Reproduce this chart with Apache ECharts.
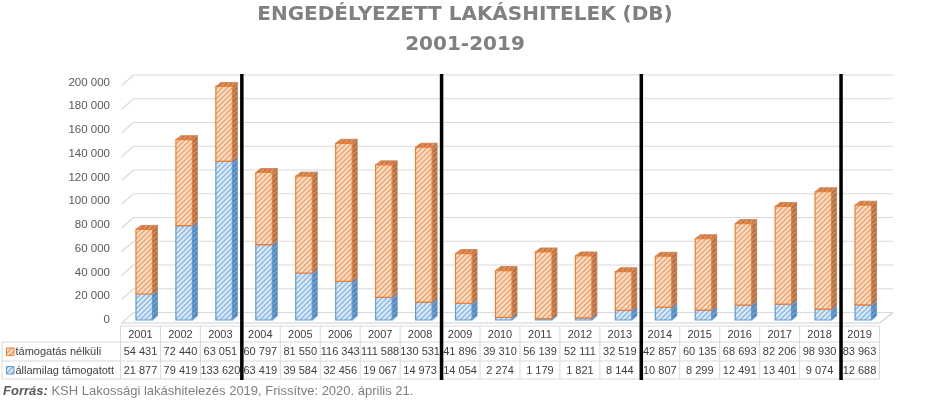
<!DOCTYPE html>
<html><head><meta charset="utf-8">
<script src="https://cdn.jsdelivr.net/npm/echarts@6/dist/echarts.min.js"></script>
<style>html,body{margin:0;padding:0;background:#fff}#c{width:930px;height:402px}</style>
</head><body><div id="c"></div>
<script>
const years = ['2001','2002','2003','2004','2005','2006','2007','2008','2009','2010','2011','2012','2013','2014','2015','2016','2017','2018','2019'];
const unsupported = [54431,72440,63051,60797,81550,116343,111588,130531,41896,39310,56139,52111,32519,42857,60135,68693,82206,98930,83963];
const supported = [21877,79419,133620,63419,39584,32456,19067,14973,14054,2274,1179,1821,8144,10807,8299,12491,13401,9074,12688];
const seriesNames = ['támogatás nélküli','államilag támogatott'];
const yTicks = [0,20000,40000,60000,80000,100000,120000,140000,160000,180000,200000];
const periodStarts = [3,8,13,18];
const titleText = 'ENGEDÉLYEZETT LAKÁSHITELEK (DB)\n2001-2019';
const sourceBold = 'Forrás:';
const sourceText = ' KSH Lakossági lakáshitelezés 2019, Frissítve: 2020. április 21.';

function fmt(v){ return String(v).replace(/\B(?=(\d{3})+(?!\d))/g,' '); }

function hatch(bg, line){
  const s = 5, c = document.createElement('canvas');
  c.width = s; c.height = s;
  const g = c.getContext('2d');
  g.fillStyle = bg; g.fillRect(0,0,s,s);
  g.strokeStyle = line; g.lineWidth = 1.3;
  g.beginPath();
  g.moveTo(-1, s+1); g.lineTo(s+1, -1);
  g.moveTo(-1, 1); g.lineTo(1, -1);
  g.moveTo(s-1, s+1); g.lineTo(s+1, s-1);
  g.stroke();
  return {image: c, repeat: 'repeat'};
}
const P = {
  oFront: hatch('#fce0cc', '#f09d62'),
  oSide: hatch('#c88a60', '#a86538'),
  oTop: hatch('#dc915f', '#c0703d'),
  bFront: hatch('#dceaf8', '#88b4e0'),
  bSide: hatch('#6f9fd0', '#4a7fb8'),
  bTop: hatch('#7fb0dd', '#5a8fc8')
};
const oEdge = '#ed7d31', bEdge = '#5b9bd5', gridC = '#d9d9d9', tableC = '#d9d9d9';
const txtFont = '11px "Liberation Sans"';

const chart = echarts.init(document.getElementById('c'), null, {renderer:'canvas'});

function bandW(api){ return api.size([1,0])[0]; }

const option = {
  animation: false,
  title: {
    text: titleText, left: 'center', top: 0.5, padding: 0,
    textStyle: {fontFamily: 'DejaVu Sans', fontWeight: 'bold', fontSize: 20, color: '#808080', lineHeight: 29.5}
  },
  grid: {left: 120.5, right: 50.5, top: 82.5, bottom: 82},
  xAxis: {type: 'category', data: years, show: false},
  yAxis: {
    type: 'value', min: 0, max: 200000, interval: 20000,
    splitLine: {show: false}, axisLine: {show: false}, axisTick: {show: false},
    axisLabel: {formatter: fmt, color: '#595959', fontFamily: 'Liberation Sans', fontSize: 11.5, margin: 10.5, padding: [5,0,0,0]}
  },
  series: [
    { // back wall gridlines and floor
      type: 'custom', silent: true, z: 1,
      data: yTicks.map(v => [0, v]),
      renderItem(params, api){
        const cs = params.coordSys;
        const y = api.coord([0, api.value(1)])[1];
        const x0 = cs.x, x1 = cs.x + cs.width;
        const children = [{
          type: 'polyline',
          shape: {points: [[x0+1, y+3], [x0+13, y-7.5], [x1+13.5, y-7.5]]},
          style: {stroke: gridC, lineWidth: 1.2, fill: null}
        }];
        if (api.value(1) === 0) {
          children.push({type:'polyline', shape:{points:[[x0+1,y+3],[x1,y+3],[x1+13.5,y-7.5]]}, style:{stroke:'#d0d0d0', lineWidth:1.2, fill:null}});
        }
        return {type:'group', children};
      }
    },
    { // 3D stacked bars
      type: 'custom', silent: true, z: 3,
      name: seriesNames[0],
      data: years.map((y, i) => [i, supported[i], unsupported[i]]),
      renderItem(params, api){
        const i = api.value(0), s = api.value(1), u = api.value(2);
        const base = api.coord([i, 0]);
        const cx = base[0], y0 = base[1];
        const yS = api.coord([i, s])[1], yT = api.coord([i, s + u])[1];
        const w = 16.5, L = cx - 4.5, R = L + w, dx = 5, dy = -4;
        const poly = (pts, fill, stroke) => ({type:'polygon', shape:{points:pts}, style:{fill, stroke, lineWidth:0.8}});
        return {type:'group', children: [
          poly([[R,y0],[R+dx,y0+dy],[R+dx,yS+dy],[R,yS]], P.bSide, '#5b8fc8'),
          poly([[R,yS],[R+dx,yS+dy],[R+dx,yT+dy],[R,yT]], P.oSide, '#c07a4c'),
          poly([[L,yT],[L+dx,yT+dy],[R+dx,yT+dy],[R,yT]], P.oTop, '#d07c45'),
          {type:'rect', shape:{x:L, y:yS, width:w, height:y0-yS}, style:{fill:P.bFront, stroke:bEdge, lineWidth:1.2}},
          {type:'rect', shape:{x:L, y:yT, width:w, height:yS-yT}, style:{fill:P.oFront, stroke:oEdge, lineWidth:1.2}}
        ]};
      }
    },
    { // data table
      type: 'custom', silent: true, z: 2,
      data: years.map((y, i) => [i]),
      renderItem(params, api){
        const i = api.value(0);
        const base = api.coord([i, 0]);
        const bw = bandW(api);
        const xl = base[0] - bw/2, xr = base[0] + bw/2, cx = base[0], y0 = base[1];
        const r0 = y0 + 6, r1 = y0 + 22, r2 = y0 + 41, r3 = y0 + 59;
        const ln = (x1,y1,x2,y2) => ({type:'line', shape:{x1,y1,x2,y2}, style:{stroke:tableC, lineWidth:1}});
        const tx = (t, x, y, align) => ({type:'text', style:{text:t, x, y, align: align||'center', verticalAlign:'middle', font: txtFont, fill:'#404040'}});
        const children = [
          ln(xl, r0, xr, r0), ln(xl, r1, xr, r1), ln(xl, r2, xr, r2), ln(xl, r3, xr, r3),
          ln(xr, r0, xr, r3),
          tx(years[i], cx, (r0+r1)/2 + 0.5),
          tx(fmt(unsupported[i]), cx, (r1+r2)/2 + 0.5),
          tx(fmt(supported[i]), cx, (r2+r3)/2 + 0.5)
        ];
        if (i === 0) {
          const lx = 2;
          children.push(ln(xl, r0, xl, r3), ln(lx, r1, xl, r1), ln(lx, r2, xl, r2), ln(lx, r3, xl, r3), ln(lx, r1, lx, r3));
          const ic = (y, fill, stroke) => ({type:'rect', shape:{x:6.5, y:y-4, width:7.5, height:7.5}, style:{fill, stroke, lineWidth:1}});
          children.push(ic((r1+r2)/2 + 0.5, P.oFront, oEdge), ic((r2+r3)/2 + 0.5, P.bFront, bEdge));
          children.push(tx(seriesNames[0], 15.5, (r1+r2)/2 + 0.5, 'left'), tx(seriesNames[1], 15.5, (r2+r3)/2 + 0.5, 'left'));
        }
        return {type:'group', children};
      }
    },
    { // period separators
      type: 'custom', silent: true, z: 5,
      data: periodStarts.map(i => [i]),
      renderItem(params, api){
        const i = api.value(0);
        const base = api.coord([i, 0]);
        const bw = bandW(api);
        const cs = params.coordSys;
        const x = base[0] - bw/2 + 1.5;
        return {type:'rect', shape:{x: x - 1.75, y: cs.y - 8.5, width: 3.5, height: base[1] + 60 - (cs.y - 8.5)}, style:{fill:'#000'}};
      }
    }
  ],
  graphic: [{
    type: 'text', left: 3, top: 385,
    style: {
      text: '{a|' + sourceBold + '}{b|' + sourceText + '}',
      rich: {
        a: {fontFamily:'Liberation Sans', fontSize: 13, fontWeight:'bold', fontStyle:'italic', fill:'#595959'},
        b: {fontFamily:'Liberation Sans', fontSize: 13, fill:'#7f7f7f'}
      }
    }
  }]
};
chart.setOption(option);
</script></body></html>
